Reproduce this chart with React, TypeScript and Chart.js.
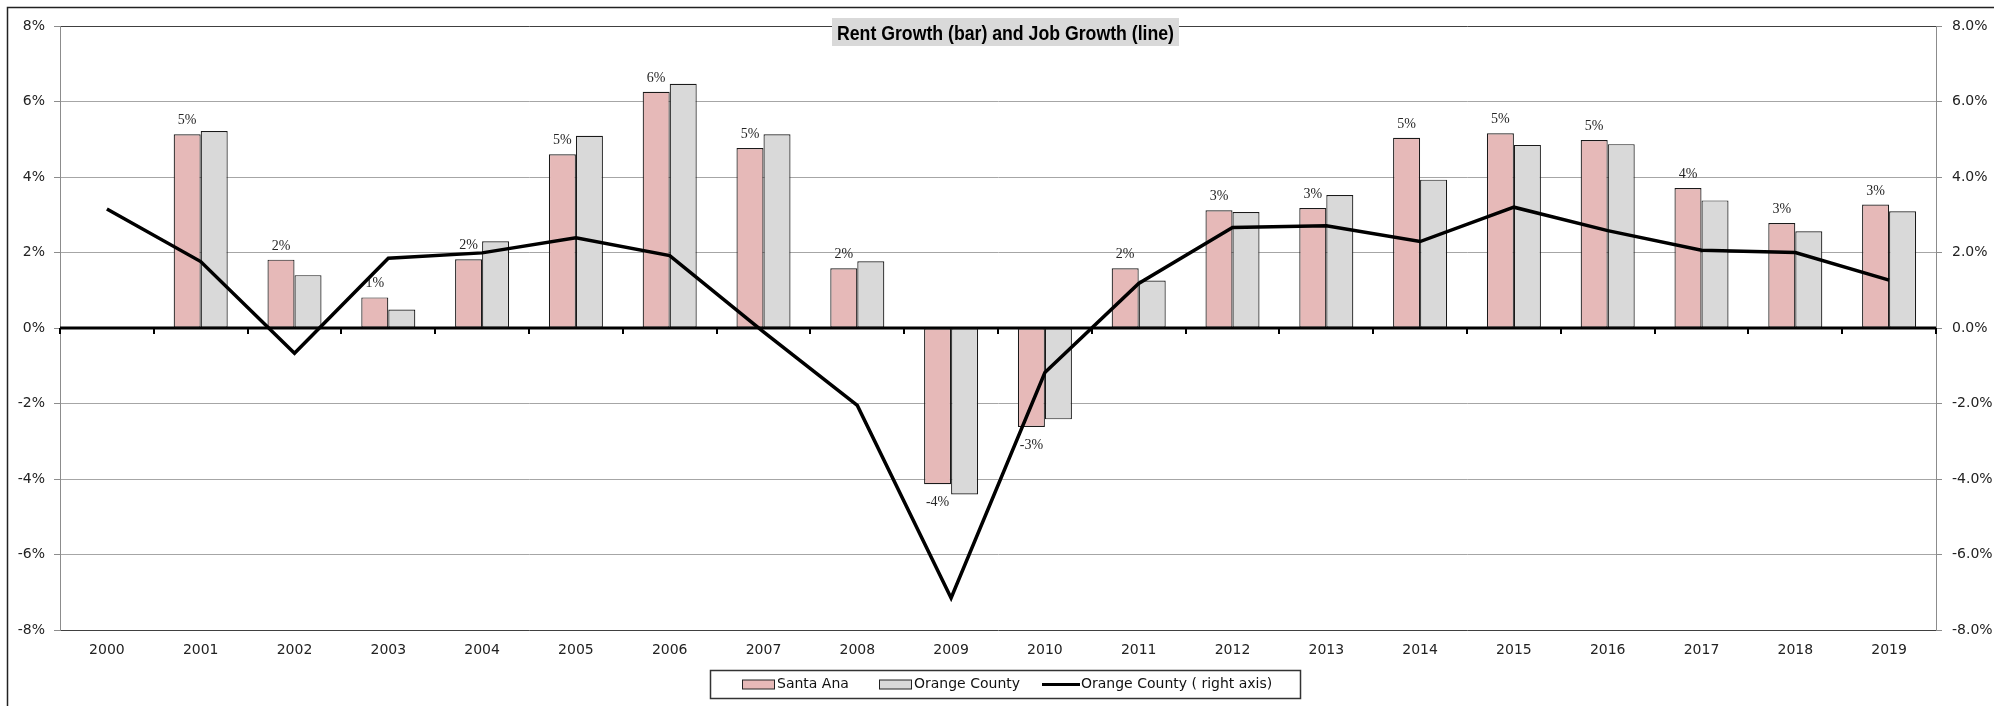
import React, { useEffect, useRef } from 'react';
import { Chart, registerables } from 'chart.js';

Chart.register(...registerables);

const years = ['2000', '2001', '2002', '2003', '2004', '2005', '2006', '2007', '2008', '2009', '2010', '2011', '2012', '2013', '2014', '2015', '2016', '2017', '2018', '2019'];
const santaAna = [null, 5.13, 1.81, 0.81, 1.82, 4.6, 6.26, 4.77, 1.58, -4.14, -2.62, 1.58, 3.12, 3.18, 5.04, 5.16, 4.98, 3.71, 2.78, 3.27];
const orangeCounty = [null, 5.22, 1.4, 0.49, 2.3, 5.09, 6.47, 5.13, 1.77, -4.41, -2.42, 1.26, 3.07, 3.52, 3.93, 4.85, 4.87, 3.38, 2.56, 3.09];
const jobGrowth = [3.15, 1.76, -0.67, 1.85, 1.99, 2.39, 1.92, -0.1, -2.05, -7.15, -1.18, 1.18, 2.66, 2.71, 2.29, 3.2, 2.58, 2.06, 2.0, 1.27];
const axisMin = -8;
const axisMax = 8;
const axisStep = 2;
const titleText = 'Rent Growth (bar) and Job Growth (line)';
const legendLabels = ['Santa Ana', 'Orange County', 'Orange County ( right axis)'];

const PINK = '#e6b9b8';
const GREY = '#d9d9d9';
const SANS = "'DejaVu Sans', sans-serif";
const SERIF = "'Liberation Serif', serif";

const decorPlugin = {
  id: 'decor',
  beforeDatasetsDraw(chart: any) {
    const { ctx, chartArea } = chart;
    const yScale = chart.scales.y;
    const y0 = yScale.getPixelForValue(0);
    ctx.save();
    // zero axis line
    ctx.strokeStyle = '#000';
    ctx.lineWidth = 3;
    ctx.beginPath();
    ctx.moveTo(chartArea.left, y0);
    ctx.lineTo(chartArea.right, y0);
    ctx.stroke();
    // category tick marks
    const n = years.length;
    const w = (chartArea.right - chartArea.left) / n;
    ctx.lineWidth = 2;
    for (let i = 0; i <= n; i++) {
      const x = Math.round(chartArea.left + i * w);
      ctx.beginPath();
      ctx.moveTo(x, y0);
      ctx.lineTo(x, y0 + 6);
      ctx.stroke();
    }
    // data labels on Santa Ana bars
    const meta = chart.getDatasetMeta(0);
    ctx.font = '14px ' + SERIF;
    ctx.fillStyle = '#262626';
    ctx.textAlign = 'center';
    ctx.textBaseline = 'alphabetic';
    meta.data.forEach((bar: any, i: number) => {
      const v = santaAna[i];
      if (v === null || v === undefined) return;
      const label = Math.round(v) + '%';
      if (v >= 0) {
        ctx.fillText(label, bar.x, bar.y - 10);
      } else {
        ctx.fillText(label, bar.x, bar.y + 22);
      }
    });
    ctx.restore();
  },
  afterDraw(chart: any) {
    const { ctx } = chart;
    ctx.save();
    // title box
    ctx.fillStyle = GREY;
    ctx.fillRect(832, 18, 347, 28);
    ctx.fillStyle = '#000';
    ctx.font = 'bold 20px ' + "'Liberation Sans', sans-serif";
    ctx.textAlign = 'center';
    ctx.textBaseline = 'alphabetic';
    ctx.fillText(titleText, 1005.5, 40, 337);

    // legend
    ctx.strokeStyle = '#333';
    ctx.lineWidth = 1.5;
    ctx.strokeRect(710.5, 670.5, 590, 28);
    const cy = 684.5;
    ctx.lineWidth = 1;
    ctx.fillStyle = PINK;
    ctx.fillRect(742.5, cy - 4.5, 32, 9);
    ctx.strokeStyle = '#222';
    ctx.strokeRect(742.5, cy - 4.5, 32, 9);
    ctx.fillStyle = GREY;
    ctx.fillRect(879.5, cy - 4.5, 32, 9);
    ctx.strokeRect(879.5, cy - 4.5, 32, 9);
    ctx.strokeStyle = '#000';
    ctx.lineWidth = 3;
    ctx.beginPath();
    ctx.moveTo(1042, cy);
    ctx.lineTo(1080, cy);
    ctx.stroke();
    ctx.fillStyle = '#111';
    ctx.font = '14px ' + SANS;
    ctx.textAlign = 'left';
    ctx.textBaseline = 'middle';
    ctx.fillText(legendLabels[0], 777, cy);
    ctx.fillText(legendLabels[1], 914, cy);
    ctx.fillText(legendLabels[2], 1081, cy);

    // outer frame
    ctx.strokeStyle = '#222';
    ctx.lineWidth = 1.5;
    ctx.beginPath();
    ctx.moveTo(7.5, 720);
    ctx.lineTo(7.5, 7.5);
    ctx.lineTo(2000, 7.5);
    ctx.stroke();
    ctx.restore();
  },
};

export default function App() {
  const ref = useRef<HTMLCanvasElement | null>(null);
  useEffect(() => {
    if (!ref.current) return;
    const gridColor = (c: any) => {
      const v = c.tick ? c.tick.value : null;
      if (v === 0) return 'rgba(0,0,0,0)';
      if (v === axisMax || v === axisMin) return '#404040';
      return '#a6a6a6';
    };
    const chart = new Chart(ref.current, {
      type: 'bar',
      data: {
        labels: years,
        datasets: [
          {
            label: legendLabels[0],
            data: santaAna as any,
            backgroundColor: PINK,
            borderColor: '#1a1a1a',
            borderWidth: 1.2,
            borderSkipped: false,
            categoryPercentage: 0.576,
            barPercentage: 1,
            yAxisID: 'y',
            order: 2,
          },
          {
            label: legendLabels[1],
            data: orangeCounty as any,
            backgroundColor: GREY,
            borderColor: '#1a1a1a',
            borderWidth: 1.2,
            borderSkipped: false,
            categoryPercentage: 0.576,
            barPercentage: 1,
            yAxisID: 'y',
            order: 2,
          },
          {
            type: 'line',
            label: legendLabels[2],
            data: jobGrowth,
            borderColor: '#000',
            backgroundColor: '#000',
            borderWidth: 3.5,
            pointRadius: 0,
            tension: 0,
            fill: false,
            yAxisID: 'y2',
            order: 0,
          } as any,
        ],
      },
      options: {
        animation: false,
        responsive: false,
        events: [],
        layout: { padding: { top: 26, bottom: 46, left: 0, right: 0 } },
        plugins: {
          legend: { display: false },
          title: { display: false },
          tooltip: { enabled: false },
        },
        scales: {
          x: {
            offset: true,
            grid: { display: false, drawTicks: false },
            border: { display: false },
            ticks: {
              font: { family: SANS, size: 14 },
              color: '#222',
              padding: 12,
              maxRotation: 0,
              autoSkip: false,
            },
            afterFit: (s: any) => { s.height = 30; },
          },
          y: {
            position: 'left',
            min: axisMin,
            max: axisMax,
            ticks: {
              stepSize: axisStep,
              font: { family: SANS, size: 14 },
              color: '#222',
              padding: 9,
              callback: (v: any) => v + '%',
            },
            grid: { color: gridColor, lineWidth: 1, tickLength: 6, tickColor: '#8c8c8c' },
            border: { display: true, color: '#8c8c8c', width: 1 },
            afterFit: (s: any) => { s.width = 60; },
          },
          y2: {
            position: 'right',
            min: axisMin,
            max: axisMax,
            ticks: {
              stepSize: axisStep,
              font: { family: SANS, size: 14 },
              color: '#222',
              padding: 10,
              callback: (v: any) => Number(v).toFixed(1) + '%',
            },
            grid: { drawOnChartArea: false, tickLength: 6, tickColor: '#8c8c8c' },
            border: { display: true, color: '#8c8c8c', width: 1 },
            afterFit: (s: any) => { s.width = 58; },
          },
        },
      },
      plugins: [decorPlugin],
    });
    return () => chart.destroy();
  }, []);
  return (
    <div style={{ position: 'absolute', left: 0, top: 0, width: 1994, height: 706, background: '#fff' }}>
      <canvas ref={ref} width={1994} height={706} style={{ display: 'block', width: 1994, height: 706 }} />
    </div>
  );
}
